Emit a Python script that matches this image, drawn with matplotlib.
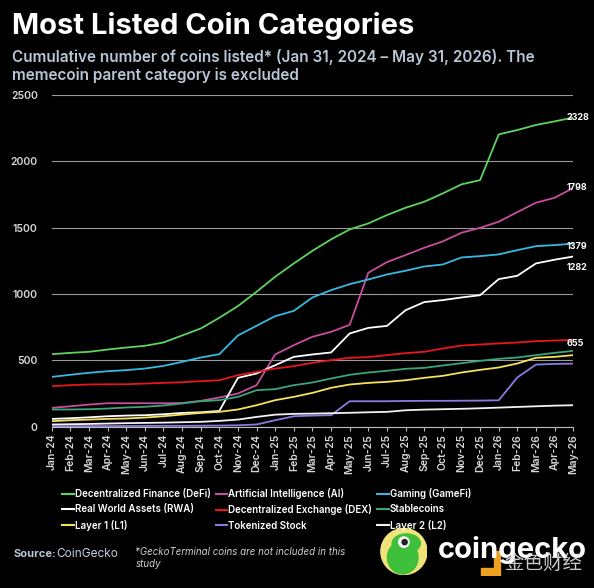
import matplotlib
matplotlib.use("Agg")
import matplotlib.pyplot as plt
from matplotlib.patches import Circle, Ellipse, Polygon
from matplotlib.lines import Line2D

months = ["Jan-24","Feb-24","Mar-24","Apr-24","May-24","Jun-24","Jul-24","Aug-24","Sep-24","Oct-24",
          "Nov-24","Dec-24","Jan-25","Feb-25","Mar-25","Apr-25","May-25","Jun-25","Jul-25","Aug-25",
          "Sep-25","Oct-25","Nov-25","Dec-25","Jan-26","Feb-26","Mar-26","Apr-26","May-26"]

defi = [547,557,565,582,597,610,635,688,740,821,909,1017,1130,1230,1325,1411,1486,1531,1594,1649,
        1694,1757,1825,1857,2201,2234,2272,2299,2328]
ai = [143,155,168,178,178,178,178,180,196,221,251,314,545,615,678,715,768,1160,1240,1293,
      1348,1396,1461,1498,1544,1616,1687,1724,1798]
gaming = [376,392,407,419,427,439,459,489,522,547,688,761,833,873,974,1029,1074,1109,1147,1175,
          1207,1222,1275,1285,1298,1330,1360,1368,1379]
rwa = [60,65,72,80,85,88,95,105,110,120,369,402,464,527,545,560,703,745,760,878,
       939,954,974,991,1112,1137,1230,1258,1282]
dex = [306,314,319,321,321,326,331,336,344,351,389,414,439,457,482,502,520,525,540,555,
       565,590,612,620,628,635,645,650,655]
stable = [131,131,133,138,146,151,161,176,193,201,226,276,284,314,334,364,392,409,422,437,
          444,462,479,497,512,522,540,557,572]
layer1 = [43,50,55,60,63,70,80,93,105,113,131,163,201,226,256,294,319,331,339,351,
          369,384,409,429,447,477,520,527,540]
tokenized = [5,5,6,6,7,7,8,8,9,10,12,18,50,80,85,88,193,193,193,195,
             196,196,197,198,200,372,469,474,476]
layer2 = [18,20,22,25,28,30,32,35,38,45,55,75,92,98,100,103,106,110,113,125,
          130,133,136,140,145,150,155,160,163]

series = [
    ("Decentralized Finance (DeFi)", defi, "#5fd35f"),
    ("Artificial Intelligence (AI)", ai, "#c84ea0"),
    ("Gaming (GameFi)", gaming, "#3ab8e0"),
    ("Real World Assets (RWA)", rwa, "#ffffff"),
    ("Decentralized Exchange (DEX)", dex, "#e8161c"),
    ("Stablecoins", stable, "#3aa57a"),
    ("Layer 1 (L1)", layer1, "#f5e15a"),
    ("Tokenized Stock", tokenized, "#8a7be0"),
    ("Layer 2 (L2)", layer2, "#f2f2f2"),
]
end_labels = [("2328", defi[-1], 0), ("1798", ai[-1], 0), ("1379", gaming[-1], -20),
              ("1282", rwa[-1], -80), ("655", dex[-1], -25)]

plt.rcParams['font.family'] = ['Inter', 'DejaVu Sans']
BG = "black"
fig = plt.figure(figsize=(5.94, 5.88), dpi=100, facecolor=BG)
ax = fig.add_axes([0.087, 0.274, 0.878, 0.565], facecolor=BG)

x = list(range(len(months)))
for name, vals, col in series:
    ax.plot(x, vals, color=col, lw=1.3, label=name, solid_joinstyle="round")

for txt, v, off in end_labels:
    ax.text(len(months) - 1 - 0.35, v + off, txt, color="white", fontsize=6.5, fontweight="bold",
            va="center", ha="left", zorder=5)

ax.set_xlim(0, len(months) - 1)
ax.set_ylim(0, 2500)
ax.set_yticks(range(0, 2501, 500))
ax.yaxis.grid(True, color="#9a9a9a", lw=0.8)
ax.set_axisbelow(True)
ax.set_xticks(x)
ax.set_xticklabels(months, rotation=90, fontsize=7.5, color="#d8d8d8", fontweight="semibold")
ax.tick_params(axis="y", length=0, labelsize=7.5, labelcolor="#d8d8d8", pad=10)
ax.tick_params(axis="x", length=3, color="#bbbbbb", pad=2)
for lab in ax.get_yticklabels():
    lab.set_fontweight("semibold")
for s in ["top", "right", "left"]:
    ax.spines[s].set_visible(False)
ax.spines["bottom"].set_color("#bbbbbb")

fig.text(0.02, 0.956, "Most Listed Coin Categories", color="white", fontsize=21, fontweight="bold",
         va="center", ha="left")
fig.text(0.02, 0.887, "Cumulative number of coins listed* (Jan 31, 2024 \u2013 May 31, 2026). The\nmemecoin parent category is excluded",
         color="#b9c6d6", fontsize=11, fontweight="semibold", va="center", ha="left", linespacing=1.2)

order = [0, 3, 6, 1, 4, 7, 2, 5, 8]
handles = [Line2D([0], [0], color=series[i][2], lw=1.5) for i in order]
labels = [series[i][0] for i in order]
leg = fig.legend(handles, labels, loc="upper left", bbox_to_anchor=(0.09, 0.185), ncol=3,
                 frameon=False, fontsize=7, handlelength=1.2, handletextpad=0.1,
                 columnspacing=0.5, labelspacing=0.55, labelcolor="white")
for t in leg.get_texts():
    t.set_fontweight("semibold")

fig.text(0.022, 0.058, "Source:", color="#b9c6d6", fontsize=8, fontweight="bold", va="center")
fig.text(0.095, 0.058, "CoinGecko", color="#c8d0da", fontsize=8.5, va="center")
fig.text(0.228, 0.07, "*GeckoTerminal coins are not included in this\nstudy", color="#d0d0d0",
         fontsize=7, style="italic", va="top", ha="left", linespacing=1.3)

# logo
lax = fig.add_axes([0.64, 0.022, 0.08, 0.08], facecolor="none")
lax.set_xlim(-1, 1); lax.set_ylim(-1, 1); lax.set_aspect("equal"); lax.axis("off")
lax.add_patch(Circle((0, 0), 0.98, color="#f2e27a"))
lax.add_patch(Ellipse((-0.05, -0.25), 1.3, 1.4, color="#3fc03a"))
lax.add_patch(Ellipse((0.1, 0.35), 1.2, 0.8, color="#3fc03a"))
lax.add_patch(Circle((0.0, 0.4), 0.22, color="white"))
lax.add_patch(Circle((0.03, 0.4), 0.11, color="#222222"))
fig.text(0.738, 0.064, "coingecko", color="white", fontsize=21, fontweight="bold", va="center")
# watermark
wax = fig.add_axes([0.805, 0.02, 0.04, 0.045], facecolor="none")
wax.set_xlim(0, 1); wax.set_ylim(0, 1); wax.axis("off")
wax.add_patch(Polygon([(0.1, 0.05), (0.9, 0.05), (0.9, 0.95), (0.65, 0.95), (0.65, 0.3), (0.1, 0.3)],
                      closed=True, color="#f0a020"))
fig.text(0.85, 0.042, "金色财经", color="#e0e0e0", fontsize=14, va="center",
         family=["Noto Sans CJK SC", "DejaVu Sans"], alpha=0.9)

fig.savefig("out.png", dpi=100, facecolor=BG)
